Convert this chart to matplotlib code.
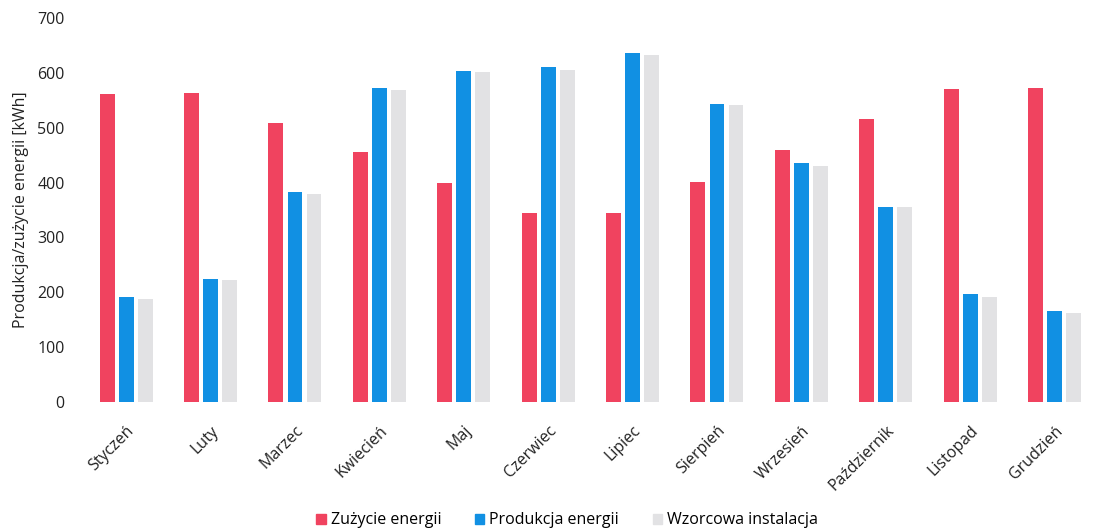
import numpy as np
import matplotlib.pyplot as plt
import matplotlib.patches as mpatches

plt.rcParams['font.family'] = ['Open Sans', 'DejaVu Sans']

months = ['Styczeń', 'Luty', 'Marzec', 'Kwiecień', 'Maj', 'Czerwiec',
          'Lipiec', 'Sierpień', 'Wrzesień', 'Październik', 'Listopad', 'Grudzień']
zuzycie = [562, 564, 509, 456, 400, 345, 345, 401, 460, 515, 571, 572]
produkcja = [191, 225, 383, 573, 604, 610, 636, 544, 436, 356, 196, 165]
wzorcowa = [188, 222, 380, 569, 601, 606, 632, 541, 431, 355, 192, 163]

RED = '#F0435F'
BLUE = '#1190E3'
GRAY = '#E2E2E4'

fig = plt.figure(figsize=(10.99, 5.32), dpi=100)
ax = fig.add_axes([0.0764, 0.2444, 0.9216, 0.7218])

x = np.arange(len(months))
w = 0.176
off = 0.226
ax.bar(x - off, zuzycie, w, color=RED, label='Zużycie energii')
ax.bar(x, produkcja, w, color=BLUE, label='Produkcja energii')
ax.bar(x + off, wzorcowa, w, color=GRAY, label='Wzorcowa instalacja')

ax.set_xlim(-0.5, 11.5)
ax.set_ylim(0, 700)
ax.set_yticks(range(0, 701, 100))
ax.set_xticks(x)
ax.set_xticklabels(months, rotation=45, ha='right', rotation_mode='anchor',
                   fontsize=11.5, color='#222222')
ax.tick_params(axis='x', length=0, pad=15)
ax.tick_params(axis='y', length=0, pad=14, labelsize=11.5, labelcolor='#222222')
for s in ax.spines.values():
    s.set_visible(False)

ax.set_ylabel('Produkcja/zużycie energii [kWh]', fontsize=11.5, color='#222222')
ax.yaxis.set_label_coords(-0.054, 0.5)

handles = [mpatches.Patch(color=RED, label='Zużycie energii'),
           mpatches.Patch(color=BLUE, label='Produkcja energii'),
           mpatches.Patch(color=GRAY, label='Wzorcowa instalacja')]
fig.legend(handles=handles, loc='center', bbox_to_anchor=(0.516, 0.022),
           ncol=3, frameon=False, fontsize=11.5, handlelength=0.6,
           handleheight=0.6, handletextpad=0.3, columnspacing=2.1)

fig.savefig('out.png', dpi=100)
